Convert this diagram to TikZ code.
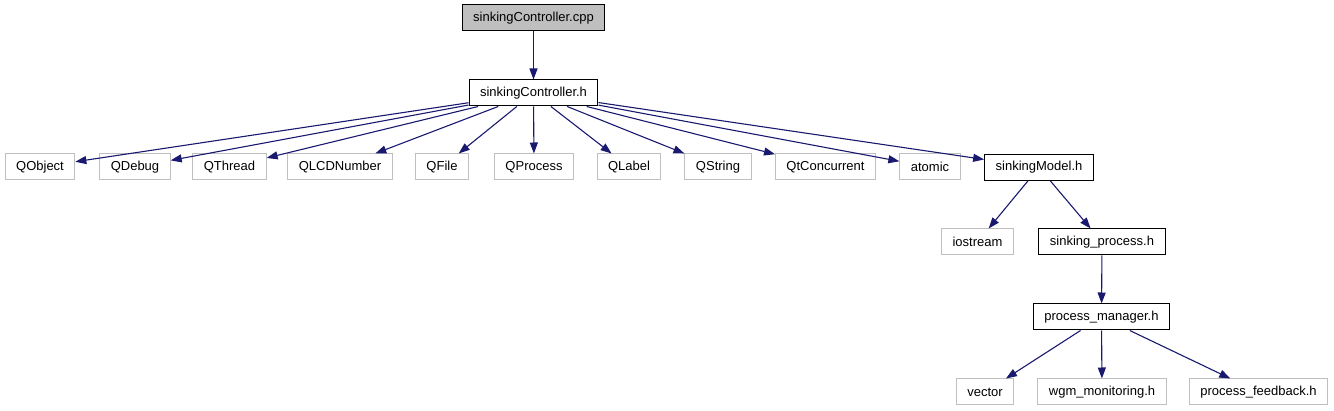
\documentclass[tikz,border=0pt]{standalone}
\usepackage{fontspec}
\setmainfont{Liberation Sans}
\usetikzlibrary{arrows.meta}

\definecolor{edgeblue}{HTML}{191970}
\definecolor{extgray}{HTML}{BFBFBF}

\tikzset{
  filebox/.style={draw=black, line width=1pt, fill=white, inner xsep=11pt, inner ysep=0pt,
    minimum height=26pt, font=\fontsize{13}{15}\selectfont},
  extbox/.style={filebox, draw=extgray},
  rootbox/.style={filebox, fill=extgray},
  incl/.style={draw=edgeblue, line width=1.1pt, -{Triangle[length=11pt,width=8pt]}}
}

\begin{document}
\begin{tikzpicture}[x=1pt, y=-1pt]
\useasboundingbox (0,0) rectangle (1334,411);
\node [rootbox] (cpp) at (533.5,18) {sinkingController.cpp};
\node [filebox] (ctrlh) at (533.5,93) {sinkingController.h};
\node [extbox] (qobject) at (40,167) {QObject};
\node [extbox] (qdebug) at (135,167) {QDebug};
\node [extbox] (qthread) at (229.5,167) {QThread};
\node [extbox] (qlcd) at (340,167) {QLCDNumber};
\node [extbox] (qfile) at (442,167) {QFile};
\node [extbox] (qprocess) at (534,167) {QProcess};
\node [extbox] (qlabel) at (629,167) {QLabel};
\node [extbox] (qstring) at (718,167) {QString};
\node [extbox] (qtconc) at (825.5,167) {QtConcurrent};
\node [extbox] (atomic) at (930,167) {atomic};
\node [filebox] (model) at (1039,167.5) {sinkingModel.h};
\node [extbox] (iostream) at (977.5,242) {iostream};
\node [filebox] (sinkproc) at (1102,242) {sinking\_process.h};
\node [filebox] (procman) at (1101.5,317) {process\_manager.h};
\node [extbox] (vector) at (985,392) {vector};
\node [extbox] (wgm) at (1102,392) {wgm\_monitoring.h};
\node [extbox] (feedback) at (1258.5,392) {process\_feedback.h};
% include edges
\draw [incl] (cpp) -- (ctrlh);
\foreach \dest in {qobject,qdebug,qthread,qlcd,qfile,qprocess,qlabel,qstring,qtconc,atomic,model}
  \draw [incl] (ctrlh) -- (\dest);
\draw [incl] (model) -- (iostream);
\draw [incl] (model) -- (sinkproc);
\draw [incl] (sinkproc) -- (procman);
\draw [incl] (procman) -- (vector);
\draw [incl] (procman) -- (wgm);
\draw [incl] (procman) -- (feedback);
\end{tikzpicture}
\end{document}
